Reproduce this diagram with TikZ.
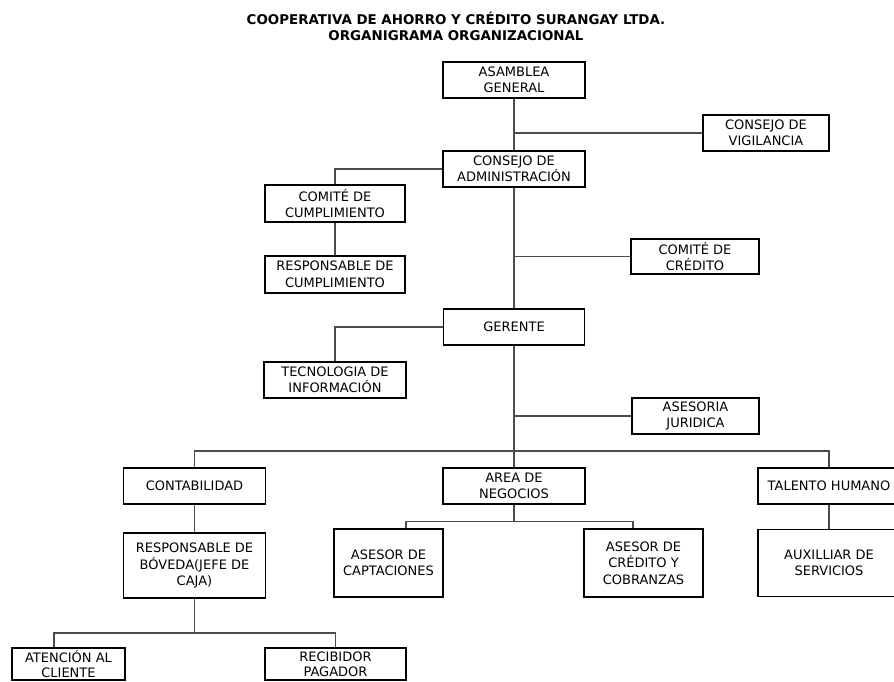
\documentclass[tikz,border=0pt]{standalone}
\usepackage{fontspec}
\setmainfont{DejaVu Sans}
\newcommand\orgboxfont{\fontsize{13}{16.5}\selectfont}
\newcommand\orgtightfont{\fontsize{13}{15}\selectfont}
\newcommand\orgtitlefont{\bfseries\fontsize{13.4}{17.5}\selectfont}
\tikzset{
  orgbox/.style={draw=black, line width=1.8pt, align=center, inner sep=0pt, font=\orgboxfont, fill=white},
  conn/.style={line width=1.2pt, draw=black!70},
  ttl/.style={font=\orgtitlefont, inner sep=0pt}
}
\begin{document}
\begin{tikzpicture}[x=1pt,y=-1pt]
\useasboundingbox (0,0) rectangle (894,681);
\clip (0,0) rectangle (894,681);
\fill[white] (0,0) rectangle (894,681);

% title
\node[ttl] (t1) at (456,18.5) {COOPERATIVA DE AHORRO Y CRÉDITO SURANGAY LTDA.};
\node[ttl] (t2) at (456,36) {ORGANIGRAMA ORGANIZACIONAL};

\coordinate (bus1) at (514,451);
\coordinate (bus2) at (514,521.5);
\coordinate (bus3) at (194.5,633);

% boxes
\node[orgbox, minimum width=142pt, minimum height=36pt] (asam) at (514,80) {ASAMBLEA\\GENERAL};
\node[orgbox, minimum width=126pt, minimum height=36pt] (vigi) at (766,133) {CONSEJO DE\\VIGILANCIA};
\node[orgbox, minimum width=142pt, minimum height=36pt] (admin) at (514,169) {CONSEJO DE\\ADMINISTRACIÓN};
\node[orgbox, minimum width=140pt, minimum height=37pt] (comcum) at (335,203.5) {COMITÉ DE\\CUMPLIMIENTO};
\node[orgbox, minimum width=140pt, minimum height=37pt] (rescum) at (335,274.5) {RESPONSABLE DE\\CUMPLIMIENTO};
\node[orgbox, minimum width=128pt, minimum height=35pt] (comcre) at (695,256.5) {COMITÉ DE\\CRÉDITO};
\node[orgbox, minimum width=141pt, minimum height=36pt] (geren) at (514,327) {GERENTE};
\node[orgbox, minimum width=142pt, minimum height=36pt] (tecno) at (335,380) {TECNOLOGIA DE\\INFORMACIÓN};
\node[orgbox, minimum width=127pt, minimum height=36pt] (ases) at (695.5,416) {ASESORIA\\JURIDICA};
\node[orgbox, minimum width=142pt, minimum height=36pt] (conta) at (194.5,486) {CONTABILIDAD};
\node[orgbox, minimum width=142pt, minimum height=36pt] (area) at (514,486) {AREA DE\\NEGOCIOS};
\node[orgbox, minimum width=142pt, minimum height=36pt] (talen) at (829,486) {TALENTO HUMANO};
\node[orgbox, minimum width=142pt, minimum height=65pt] (boveda) at (194.5,565.5) {RESPONSABLE DE\\BÓVEDA(JEFE DE\\CAJA)};
\node[orgbox, minimum width=109pt, minimum height=68pt] (capt) at (388.5,563) {ASESOR DE\\CAPTACIONES};
\node[orgbox, minimum width=119pt, minimum height=68pt] (credc) at (643.5,563) {ASESOR DE\\CRÉDITO Y\\COBRANZAS};
\node[orgbox, minimum width=142pt, minimum height=67pt] (auxi) at (829,563) {AUXILLIAR DE\\SERVICIOS};
\node[orgbox, font=\orgtightfont, minimum width=113pt, minimum height=32pt] (aten) at (68.5,664) {ATENCIÓN AL\\CLIENTE};
\node[orgbox, font=\orgtightfont, minimum width=141pt, minimum height=32pt] (recib) at (335.5,664) {RECIBIDOR\\PAGADOR};

% connectors
\draw[conn] (asam.south) -- (admin.north);
\draw[conn] (asam.south |- vigi.west) -- (vigi.west);
\draw[conn] (admin.west) -| (comcum.north);
\draw[conn] (comcum.south) -- (rescum.north);
\draw[conn] (admin.south) -- (geren.north);
\draw[conn] (admin.south |- comcre.west) -- (comcre.west);
\draw[conn] (geren.west) -| (tecno.north);
\draw[conn] (geren.south) -- (area.north);
\draw[conn] (geren.south |- ases.west) -- (ases.west);
\draw[conn] (conta.north) |- (bus1) -| (talen.north);
\draw[conn] (conta.south) -- (boveda.north);
\draw[conn] (area.south) -- (bus2);
\draw[conn] ([xshift=17.5pt]capt.north) |- (bus2) -| ([xshift=-10.5pt]credc.north);
\draw[conn] (talen.south) -- (auxi.north);
\draw[conn] (boveda.south) -- (bus3);
\draw[conn] ([xshift=-14.5pt]aten.north) |- (bus3) -| (recib.north);
\end{tikzpicture}
\end{document}
